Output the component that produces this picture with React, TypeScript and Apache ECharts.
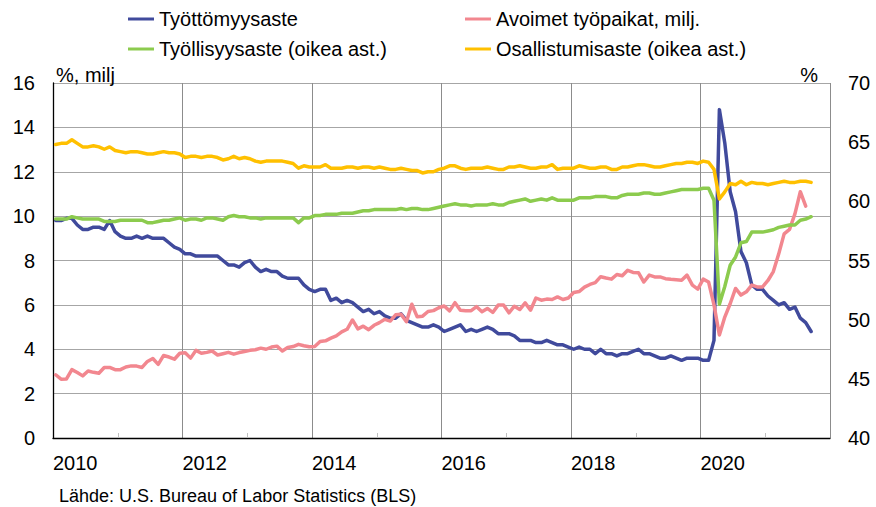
import React, { useEffect, useRef } from "react";
import * as echarts from "echarts";

const startYear = 2010;
const xMaxMonths = 144;

const seriesNames = [
  "Työttömyysaste",
  "Avoimet työpaikat, milj.",
  "Työllisyysaste (oikea ast.)",
  "Osallistumisaste (oikea ast.)",
];

// Jan 2010 – Sep 2021
const unemployment = [
  9.8, 9.8, 9.9, 9.9, 9.6, 9.4, 9.4, 9.5, 9.5, 9.4, 9.8, 9.3,
  9.1, 9.0, 9.0, 9.1, 9.0, 9.1, 9.0, 9.0, 9.0, 8.8, 8.6, 8.5,
  8.3, 8.3, 8.2, 8.2, 8.2, 8.2, 8.2, 8.0, 7.8, 7.8, 7.7, 7.9,
  8.0, 7.7, 7.5, 7.6, 7.5, 7.5, 7.3, 7.2, 7.2, 7.2, 6.9, 6.7,
  6.6, 6.7, 6.7, 6.2, 6.3, 6.1, 6.2, 6.1, 5.9, 5.7, 5.8, 5.6,
  5.7, 5.5, 5.4, 5.4, 5.6, 5.3, 5.2, 5.1, 5.0, 5.0, 5.1, 5.0,
  4.8, 4.9, 5.0, 5.1, 4.8, 4.9, 4.8, 4.9, 5.0, 4.9, 4.7, 4.7,
  4.7, 4.6, 4.4, 4.4, 4.4, 4.3, 4.3, 4.4, 4.3, 4.2, 4.2, 4.1,
  4.0, 4.1, 4.0, 4.0, 3.8, 4.0, 3.8, 3.8, 3.7, 3.8, 3.8, 3.9,
  4.0, 3.8, 3.8, 3.7, 3.6, 3.6, 3.7, 3.6, 3.5, 3.6, 3.6, 3.6,
  3.5, 3.5, 4.4, 14.8, 13.3, 11.1, 10.2, 8.4, 7.9, 6.9, 6.7, 6.7,
  6.4, 6.2, 6.0, 6.1, 5.8, 5.9, 5.4, 5.2, 4.8,
];

// Jan 2010 – Aug 2021, millions
const jobOpenings = [
  2.85, 2.65, 2.66, 3.08, 2.95, 2.8, 3.02, 2.96, 2.92, 3.18, 3.18, 3.08,
  3.08, 3.2, 3.25, 3.24, 3.18, 3.45, 3.58, 3.32, 3.72, 3.65, 3.55, 3.82,
  3.84, 3.6, 3.95, 3.82, 3.86, 3.92, 3.74, 3.8, 3.86, 3.78, 3.85, 3.9,
  3.95, 3.98, 4.05, 4.0, 4.1, 4.14, 3.92, 4.08, 4.12, 4.22, 4.16, 4.11,
  4.12, 4.35, 4.38, 4.5, 4.6, 4.78, 4.9, 5.32, 4.92, 5.04, 4.88, 5.08,
  5.2, 5.35, 5.27, 5.55, 5.58, 5.24, 6.03, 5.46, 5.49, 5.7, 5.74, 5.87,
  5.95, 5.73, 6.1, 5.76, 5.74, 5.74, 5.92, 5.69, 5.84, 5.66, 5.99, 5.99,
  5.64, 5.94, 5.79, 6.09, 5.76, 6.31, 6.21, 6.26, 6.24, 6.36, 6.24, 6.31,
  6.56, 6.6, 6.8, 6.92, 7.0, 7.27, 7.21, 7.16, 7.37, 7.31, 7.56, 7.46,
  7.45, 7.03, 7.34, 7.26, 7.26, 7.18, 7.15, 7.13, 7.11, 7.34, 6.89, 6.71,
  7.16, 7.03, 6.0, 4.64, 5.45, 6.05, 6.74, 6.44, 6.59, 6.89, 6.81, 6.81,
  7.1, 7.5, 8.3, 9.2, 9.4, 10.1, 11.1, 10.45,
];

// Jan 2010 – Sep 2021, %
const employmentRate = [
  58.5, 58.5, 58.5, 58.7, 58.6, 58.5, 58.5, 58.5, 58.5, 58.3, 58.3, 58.3,
  58.4, 58.4, 58.4, 58.4, 58.4, 58.2, 58.2, 58.3, 58.4, 58.4, 58.5, 58.6,
  58.4, 58.5, 58.5, 58.4, 58.6, 58.6, 58.5, 58.4, 58.7, 58.8, 58.7, 58.7,
  58.6, 58.6, 58.5, 58.6, 58.6, 58.6, 58.6, 58.6, 58.6, 58.2, 58.6, 58.6,
  58.8, 58.8, 58.9, 58.9, 58.9, 59.0, 59.0, 59.0, 59.1, 59.2, 59.2, 59.3,
  59.3, 59.3, 59.3, 59.3, 59.4, 59.3, 59.4, 59.4, 59.3, 59.3, 59.4, 59.5,
  59.6, 59.7, 59.8, 59.7, 59.7, 59.6, 59.7, 59.7, 59.7, 59.8, 59.7, 59.7,
  59.9, 60.0, 60.1, 60.2, 60.0, 60.1, 60.2, 60.1, 60.3, 60.1, 60.1, 60.1,
  60.1, 60.3, 60.3, 60.3, 60.4, 60.4, 60.4, 60.3, 60.3, 60.5, 60.6, 60.6,
  60.6, 60.7, 60.7, 60.6, 60.6, 60.7, 60.8, 60.9, 61.0, 61.0, 61.0, 61.0,
  61.1, 61.1, 60.1, 51.3, 52.8, 54.6, 55.3, 56.5, 56.6, 57.4, 57.4, 57.4,
  57.5, 57.6, 57.8, 57.9, 58.0, 58.0, 58.4, 58.5, 58.7,
];

// Jan 2010 – Sep 2021, %
const participationRate = [
  64.8, 64.9, 64.9, 65.2, 64.9, 64.6, 64.6, 64.7, 64.6, 64.4, 64.6, 64.3,
  64.2, 64.1, 64.2, 64.2, 64.1, 64.0, 64.0, 64.1, 64.2, 64.1, 64.1, 64.0,
  63.7, 63.8, 63.8, 63.7, 63.8, 63.8, 63.7, 63.5, 63.6, 63.8, 63.6, 63.7,
  63.6, 63.4, 63.3, 63.4, 63.4, 63.4, 63.4, 63.3, 63.2, 62.8, 63.0, 62.9,
  62.9, 62.9, 63.1, 62.8, 62.8, 62.8, 62.9, 62.9, 62.8, 62.9, 62.9, 62.8,
  62.9, 62.8, 62.7, 62.7, 62.8, 62.7, 62.6, 62.6, 62.4, 62.5, 62.5, 62.7,
  62.8, 63.0, 63.0, 62.8, 62.7, 62.8, 62.8, 62.8, 62.9, 62.8, 62.7, 62.7,
  62.9, 62.9, 63.0, 62.9, 62.8, 62.8, 62.9, 62.9, 63.1, 62.7, 62.8, 62.8,
  62.8, 63.0, 62.9, 62.8, 62.8, 62.9, 62.9, 62.7, 62.7, 62.9, 62.9, 63.0,
  63.1, 63.1, 63.0, 62.9, 62.9, 63.0, 63.1, 63.2, 63.2, 63.3, 63.3, 63.2,
  63.4, 63.3, 62.7, 60.2, 60.8, 61.5, 61.4, 61.7, 61.4, 61.6, 61.5, 61.5,
  61.4, 61.5, 61.6, 61.7, 61.6, 61.6, 61.7, 61.7, 61.6,
];

const leftAxisName = "%, milj";
const rightAxisName = "%";
const sourceText = "Lähde: U.S. Bureau of Labor Statistics (BLS)";

const colors = ["#404A9C", "#F2878F", "#8CCB4E", "#FFC000"];
const FONT = "Liberation Sans, Arial, sans-serif";

const toPoints = (arr: number[]) => arr.map((v, i) => [i + 0.5, v]);

export default function App() {
  const ref = useRef<HTMLDivElement>(null);

  useEffect(() => {
    document.body.style.margin = "0";
    if (!ref.current) return;
    const chart = echarts.init(ref.current, null, { renderer: "svg" });
    const dataSets = [unemployment, jobOpenings, employmentRate, participationRate];
    const legendPos = [
      { left: 128, top: 9 },
      { left: 465, top: 9 },
      { left: 128, top: 39 },
      { left: 465, top: 39 },
    ];
    chart.setOption({
      animation: false,
      textStyle: { fontFamily: FONT },
      grid: { left: 53, right: 46, top: 83, bottom: 69, containLabel: false },
      legend: seriesNames.map((n, i) => ({
        data: [n],
        left: legendPos[i].left,
        top: legendPos[i].top,
        padding: 0,
        icon: "rect",
        itemWidth: 26,
        itemHeight: 3,
        itemGap: 0,
        selectedMode: false,
        textStyle: { fontSize: 20, color: "#000", fontFamily: FONT },
      })),
      xAxis: {
        type: "value",
        min: 0,
        max: xMaxMonths,
        interval: 24,
        axisLine: { show: true, lineStyle: { color: "#000", width: 1.3 } },
        axisTick: { show: false, inside: true },
        minorTick: { show: true, splitNumber: 2, length: 5, lineStyle: { color: "#c0c0c0" } },
        splitLine: { show: true, lineStyle: { color: "#8c8c8c", width: 1 } },
        axisLabel: {
          formatter: (v: number) => (v >= xMaxMonths ? "" : String(startYear + v / 12)),
          align: "left",
          margin: 15,
          fontSize: 20,
          color: "#000",
          fontFamily: FONT,
        },
      },
      yAxis: [
        {
          type: "value",
          min: 0,
          max: 16,
          interval: 2,
          name: leftAxisName,
          nameLocation: "end",
          nameGap: 0,
          nameTextStyle: { align: "left", verticalAlign: "bottom", fontSize: 20, color: "#000", padding: [0, 0, -2, 3], fontFamily: FONT },
          axisLine: { show: true, lineStyle: { color: "#000", width: 1.3 } },
          axisTick: { show: false },
          splitLine: { show: true, lineStyle: { color: "#a6a6a6", width: 1 } },
          axisLabel: { margin: 18, fontSize: 20, color: "#000", fontFamily: FONT },
        },
        {
          type: "value",
          min: 40,
          max: 70,
          interval: 5,
          position: "right",
          name: rightAxisName,
          nameLocation: "end",
          nameGap: 0,
          nameTextStyle: { align: "right", verticalAlign: "bottom", fontSize: 20, color: "#000", padding: [0, 12, -2, 0], fontFamily: FONT },
          axisLine: { show: false },
          axisTick: { show: false },
          splitLine: { show: false },
          axisLabel: { margin: 18, fontSize: 20, color: "#000", fontFamily: FONT },
        },
      ],
      graphic: [
        {
          type: "text",
          left: 59,
          top: 487,
          style: { text: sourceText, fontSize: 18, fill: "#000", fontFamily: FONT },
        },
      ],
      series: seriesNames.map((n, i) => ({
        name: n,
        type: "line",
        yAxisIndex: i >= 2 ? 1 : 0,
        data: toPoints(dataSets[i]),
        showSymbol: false,
        symbol: "none",
        color: colors[i],
        lineStyle: { width: 3.5, color: colors[i], cap: "round", join: "round" },
      })),
    });
    return () => chart.dispose();
  }, []);

  return <div ref={ref} style={{ width: 876, height: 507, position: "absolute", left: 0, top: 0 }} />;
}
